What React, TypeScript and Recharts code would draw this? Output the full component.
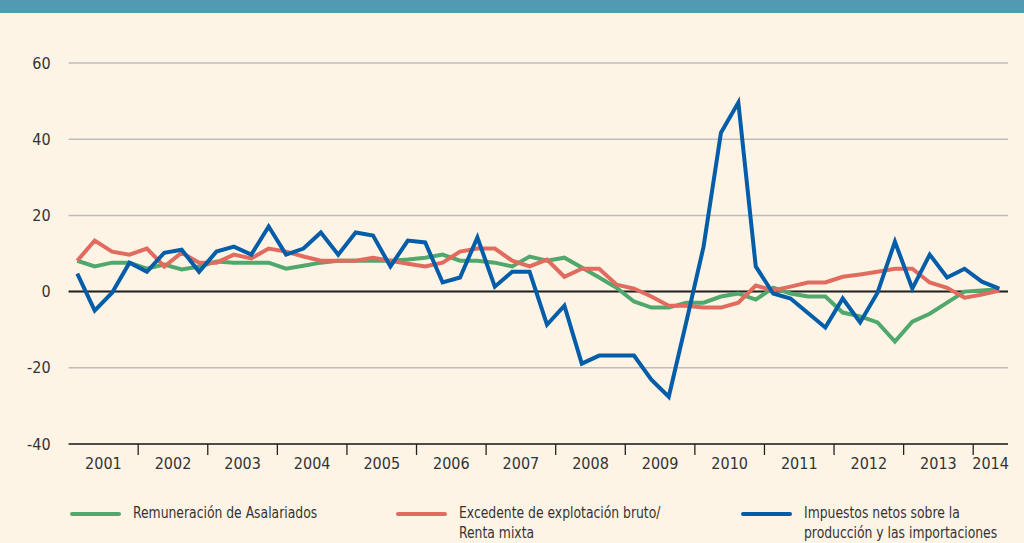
import React from "react"
import {
  LineChart,
  Line,
  XAxis,
  YAxis,
  CartesianGrid,
  ReferenceLine,
} from "recharts"

// Quarterly categories 2001T1 .. 2014T2
const years = [2001, 2002, 2003, 2004, 2005, 2006, 2007, 2008, 2009, 2010, 2011, 2012, 2013, 2014]
const quarters = years.flatMap((y) => (y === 2014 ? [1, 2] : [1, 2, 3, 4]).map((q) => `${y}T${q}`))

// Tasas de variación interanual (%)
const remuneracion = [
  8.1, 6.6, 7.6, 7.6, 6.0, 7.1, 5.8, 6.6, 7.9, 7.6,
  7.6, 7.6, 6.0, 6.8, 7.6, 8.1, 8.1, 8.1, 8.1, 8.4,
  8.9, 9.7, 8.1, 8.1, 7.6, 6.6, 9.2, 8.1, 8.9, 6.3,
  3.7, 1.0, -2.6, -4.2, -4.2, -2.9, -2.9, -1.3, -0.5, -2.1,
  1.0, -0.5, -1.3, -1.3, -5.5, -6.5, -8.1, -13.1, -7.9, -5.8,
  -2.9, 0.0, 0.3, 0.6,
]
const excedente = [
  8.1, 13.4, 10.5, 9.7, 11.3, 6.6, 10.2, 7.6, 7.6, 9.7,
  8.7, 11.3, 10.5, 9.2, 8.1, 8.1, 8.1, 8.9, 8.1, 7.3,
  6.6, 7.6, 10.5, 11.3, 11.3, 8.1, 6.6, 8.4, 3.9, 6.0,
  6.0, 1.8, 0.8, -1.3, -3.7, -3.7, -4.2, -4.2, -2.9, 1.6,
  0.3, 1.3, 2.4, 2.4, 3.9, 4.5, 5.2, 6.0, 6.0, 2.4,
  1.0, -1.6, -0.8, 0.3,
]
const impuestos = [
  4.7, -5.0, -0.3, 7.6, 5.2, 10.2, 11.0, 5.2, 10.5, 11.8,
  9.7, 17.1, 9.7, 11.3, 15.5, 9.7, 15.5, 14.7, 6.6, 13.4,
  12.9, 2.4, 3.7, 14.2, 1.3, 5.2, 5.2, -8.7, -3.7, -18.9,
  -16.8, -16.8, -16.8, -23.1, -27.6, -8.1, 11.8, 41.7, 49.6, 6.6,
  -0.5, -1.8, -5.6, -9.4, -1.8, -8.1, -0.3, 13.1, 0.8, 9.7,
  3.7, 6.0, 2.6, 0.8,
]
const yTicks = [-40, -20, 0, 20, 40, 60]
const yearTicks = quarters.filter((q) => q.endsWith("T1"))

const data = quarters.map((q, i) => ({
  q,
  rem: remuneracion[i],
  exc: excedente[i],
  imp: impuestos[i],
}))

const GREEN = "#51A86C"
const RED = "#E06B5E"
const BLUE = "#045DA8"
const FONT = '"Liberation Sans Narrow", "DejaVu Sans Condensed", "Roboto", sans-serif'
const TEXT = "#333333"

const series = [
  { key: "rem", color: GREEN, lines: ["Remuneración de Asalariados"], left: 70 },
  { key: "exc", color: RED, lines: ["Excedente de explotación bruto/", "Renta mixta"], left: 396 },
  { key: "imp", color: BLUE, lines: ["Impuestos netos sobre la", "producción y las importaciones"], left: 741 },
]

const YearTick = (props: any) => {
  const { x, y, payload } = props
  const half = payload.offset || 8.7
  const year = payload.value.slice(0, 4)
  const nq = quarters.filter((q) => q.startsWith(year)).length
  const start = x - half
  return (
    <g>
      {year !== "2001" && <line x1={start} x2={start} y1={y} y2={y + 11} stroke="#222" strokeWidth={1.3} />}
      <text x={start + nq * half} y={y + 25} textAnchor="middle" fontSize={16} fill={TEXT} fontFamily={FONT}>
        {year}
      </text>
    </g>
  )
}

export default function App() {
  return (
    <div style={{ position: "absolute", left: 0, top: 0, width: 1024, height: 543, background: "#FEF4E6", overflow: "hidden" }}>
      <div style={{ position: "absolute", left: 0, top: 0, width: 1024, height: 13, background: "#5299B2" }} />
      <LineChart width={1024} height={543} data={data} margin={{ top: 63, right: 16, bottom: 69, left: 0 }}>
        <CartesianGrid vertical={false} stroke="#bdbdbd" strokeWidth={1.5} />
        <XAxis
          dataKey="q"
          scale="band"
          ticks={yearTicks}
          interval={0}
          height={30}
          tickLine={false}
          tickSize={0}
          tickMargin={0}
          axisLine={{ stroke: "#222", strokeWidth: 1.5 }}
          tick={<YearTick />}
        />
        <YAxis
          domain={[-40, 60]}
          ticks={yTicks}
          width={68.6}
          axisLine={false}
          tickLine={false}
          tickSize={0}
          tickMargin={18}
          tick={{ fontSize: 16, fill: TEXT, fontFamily: FONT }}
        />
        <ReferenceLine y={0} stroke="#222" strokeWidth={2} />
        <Line dataKey="rem" stroke={GREEN} strokeWidth={4} dot={false} isAnimationActive={false} />
        <Line dataKey="exc" stroke={RED} strokeWidth={4} dot={false} isAnimationActive={false} />
        <Line dataKey="imp" stroke={BLUE} strokeWidth={4} dot={false} isAnimationActive={false} />
      </LineChart>
      {series.map((s) => (
        <div key={s.key} style={{ position: "absolute", left: s.left, top: 503, display: "flex" }}>
          <div style={{ width: 51, height: 4, background: s.color, marginTop: 9, borderRadius: 2 }} />
          <div
            style={{
              marginLeft: 12,
              fontFamily: FONT,
              fontSize: 16,
              color: TEXT,
              lineHeight: "20px",
              transform: "scaleX(0.86)",
              transformOrigin: "left top",
              whiteSpace: "nowrap",
            }}
          >
            {s.lines.map((t) => (
              <div key={t}>{t}</div>
            ))}
          </div>
        </div>
      ))}
    </div>
  )
}
